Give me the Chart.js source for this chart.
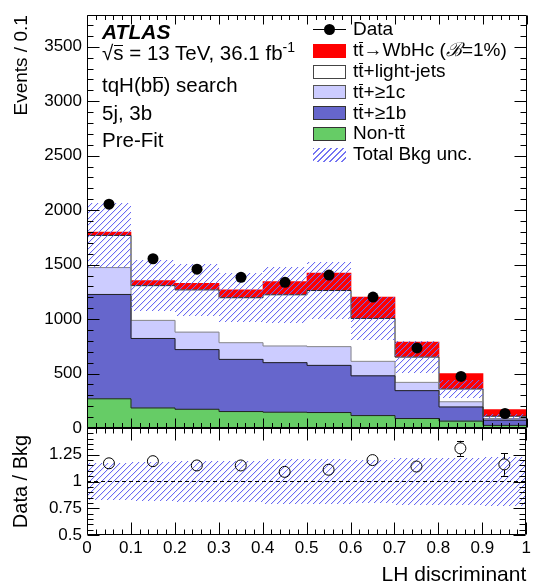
<!DOCTYPE html>
<html><head><meta charset="utf-8">
<script src="https://cdn.jsdelivr.net/npm/chart.js@4.4.1/dist/chart.umd.min.js"></script>
<style>
html,body{margin:0;padding:0;background:#fff;}
body{width:534px;height:588px;position:relative;overflow:hidden;font-family:"Liberation Sans",Arial,sans-serif;color:#000;}
canvas{position:absolute;left:0;top:0;}
.t{position:absolute;white-space:nowrap;line-height:1;}
.ob{display:inline-block;position:relative;}
.ob::before{content:'';position:absolute;left:0.03em;right:0.03em;top:0.1em;border-top:1px solid #000;}
.sw{position:absolute;box-sizing:border-box;width:33px;height:14px;}
</style></head><body>
<canvas id="main" width="534" height="588"></canvas>
<canvas id="ratio" width="534" height="588"></canvas>

<div class="t" style="left:102px;top:20.5px;font-size:21px;font-weight:bold;font-style:italic;">ATLAS</div>
<div class="t" style="left:102px;top:42.6px;font-size:20.5px;">&radic;<span class="ob">s</span> = 13 TeV, 36.1 fb<span style="font-size:14px;position:relative;top:-8px;">-1</span></div>
<div class="t" style="left:102px;top:75.3px;font-size:20.5px;">tqH(b<span class="ob">b</span>) search</div>
<div class="t" style="left:102px;top:102.6px;font-size:20.5px;">5j, 3b</div>
<div class="t" style="left:102px;top:129.9px;font-size:20.5px;">Pre-Fit</div>

<div style="position:absolute;left:313px;top:28.5px;width:33px;height:1px;background:#000;"></div>
<div style="position:absolute;left:324px;top:23.5px;width:11px;height:11px;border-radius:50%;background:#000;"></div>
<div class="t" style="left:353px;top:19.4px;font-size:19px;">Data</div>

<div class="sw" style="left:313px;top:43.8px;background:#ff0000;"></div>
<div class="t" style="left:353px;top:40.2px;font-size:19px;">t<span class="ob">t</span>&rarr;WbHc (<i>&#x212C;</i>=1%)</div>

<div class="sw" style="left:313px;top:64.6px;background:#fff;border:1px solid #444;"></div>
<div class="t" style="left:353px;top:61px;font-size:19px;">t<span class="ob">t</span>+light-jets</div>

<div class="sw" style="left:313px;top:85.4px;background:#ccccff;border:1px solid #555;"></div>
<div class="t" style="left:353px;top:81.8px;font-size:19px;">t<span class="ob">t</span>+&ge;1c</div>

<div class="sw" style="left:313px;top:106.2px;background:#6666cc;border:1px solid #333;"></div>
<div class="t" style="left:353px;top:102.6px;font-size:19px;">t<span class="ob">t</span>+&ge;1b</div>

<div class="sw" style="left:313px;top:127px;background:#66cc66;border:1px solid #333;"></div>
<div class="t" style="left:353px;top:123.4px;font-size:19px;">Non-t<span class="ob">t</span></div>

<div class="sw" style="left:313px;top:147.8px;background:repeating-linear-gradient(135deg, #7474f2 0px, #7474f2 1px, transparent 1px, transparent 4.24px);"></div>
<div class="t" style="left:353px;top:144.2px;font-size:19px;">Total Bkg unc.</div>

<script>
// ---------------- data ----------------
const binCenters = [0.05, 0.15, 0.25, 0.35, 0.45, 0.55, 0.65, 0.75, 0.85, 0.95];
const binEdges   = [0, 0.1, 0.2, 0.3, 0.4, 0.5, 0.6, 0.7, 0.8, 0.9, 1.0];

const nonTT   = [268, 184, 172, 151, 145, 142, 114,  87,  63,  24];
const ttB     = [958, 638, 548, 479, 455, 433, 365, 256, 130,  48];
const ttC     = [247, 166, 160, 153, 153, 172, 133,  76,  48,  15];
const ttLight = [295, 319, 388, 413, 470, 515, 394, 232, 117,  21];
const signal  = [ 30,  46,  60,  72, 121, 160, 196, 138, 142,  61];

const dataEvents = [2055, 1554, 1458, 1383, 1338, 1404, 1202, 735, 473, 133];
const dataErr    = [  45,   39,   38,   37,   37,   37,   35,  27,  22,  12];

const bkgRelUnc  = [0.17, 0.18, 0.19, 0.19, 0.21, 0.21, 0.20, 0.22, 0.22, 0.23];

const ratioVals  = [1.17, 1.19, 1.15, 1.15, 1.09, 1.11, 1.20, 1.14, 1.31, 1.16];
const ratioErr   = [0.025, 0.03, 0.03, 0.03, 0.03, 0.03, 0.035, 0.04, 0.07, 0.105];

const mainYTicks = [0, 500, 1000, 1500, 2000, 2500, 3000, 3500];
const ratioYTicks = [0.5, 0.75, 1, 1.25];
const ratioYTickLabels = ['0.5', '0.75', '1', '1.25'];
const xTicks = [0, 0.1, 0.2, 0.3, 0.4, 0.5, 0.6, 0.7, 0.8, 0.9, 1];
const xTickLabels = ['0', '0.1', '0.2', '0.3', '0.4', '0.5', '0.6', '0.7', '0.8', '0.9', '1'];

// ---------------- setup ----------------
Chart.defaults.font.family = "'Liberation Sans', Arial, sans-serif";

const HATCH_CORE = 'rgba(105,105,242,1)';
const HATCH_SOFT = 'rgba(105,105,242,0.15)';
const HATCH_SPACING = 6;

const comps = [nonTT, ttB, ttC, ttLight, signal];
const cum = [];
let base = binCenters.map(() => 0);
comps.forEach(c => {
  const lo = base;
  const hi = lo.map((v, i) => v + c[i]);
  cum.push({lo, hi});
  base = hi;
});
const bkgTotal = cum[3].hi;

function floatBars(lo, hi, color, order, extra) {
  return Object.assign({
    type: 'bar',
    data: binCenters.map((x, i) => ({x, y: [lo[i], hi[i]]})),
    backgroundColor: color, borderWidth: 0, grouped: false,
    barPercentage: 1, categoryPercentage: 1, order
  }, extra || {});
}
function stepLine(arr, color) {
  return {
    type: 'line',
    data: binEdges.map((e, i) => ({x: e, y: arr[Math.min(i, arr.length - 1)]})),
    stepped: true, borderColor: color, borderWidth: 1, pointRadius: 0, fill: false, order: 2
  };
}

// pixel-exact diagonal hatch inside the bars of datasets flagged "hatch"
const hatchBars = {
  id: 'hatchBars',
  afterDatasetDraw(chart, args) {
    const ds = chart.data.datasets[args.index];
    if (!ds.hatch) return;
    const {ctx, chartArea: a} = chart;
    const sp = HATCH_SPACING;
    ctx.save();
    args.meta.data.forEach(el => {
      const p = el.getProps(['x', 'y', 'base', 'width'], true);
      const L = Math.round(Math.max(a.left, p.x - p.width / 2));
      const R = Math.round(Math.min(a.right, p.x + p.width / 2));
      const T = Math.round(Math.max(a.top, Math.min(p.y, p.base)));
      const B = Math.round(Math.min(a.bottom, Math.max(p.y, p.base)));
      for (let yy = T; yy < B; yy++) {
        const start = L + ((sp - ((L + yy) % sp)) % sp);
        for (let xx = start; xx < R; xx += sp) {
          ctx.fillStyle = HATCH_CORE;
          ctx.fillRect(xx, yy, 1, 1);
          if (xx + 1 < R) { ctx.fillStyle = HATCH_SOFT; ctx.fillRect(xx + 1, yy, 1, 1); }
        }
      }
    });
    ctx.restore();
  }
};

const frameTicks = {
  id: 'frameTicks',
  afterDatasetsDraw(chart, args, o) {
    const {ctx, chartArea: a, scales: {x, y}} = chart;
    const L = Math.round(a.left) + 0.5, R = Math.round(a.right) - 0.5;
    const T = Math.round(a.top) + 0.5, B = Math.round(a.bottom) - 0.5;
    ctx.save();
    ctx.strokeStyle = '#000';
    ctx.lineWidth = 1;
    ctx.beginPath();
    ctx.rect(L, T, R - L, B - T);
    for (let k = 0; k <= 50; k++) {
      const v = k * 0.02;
      const px = Math.round(x.getPixelForValue(v)) + 0.5;
      const len = (k % 5 === 0) ? o.xMaj : o.xMin;
      ctx.moveTo(px, B); ctx.lineTo(px, B - len);
      ctx.moveTo(px, T); ctx.lineTo(px, T + len);
    }
    const n = Math.floor((y.max - o.yStart) / o.yStep + 1e-6);
    for (let k = 0; k <= n; k++) {
      const v = o.yStart + k * o.yStep;
      const py = Math.round(y.getPixelForValue(v)) + 0.5;
      const len = (k % o.yDiv === 0) ? o.yMaj : o.yMin;
      ctx.moveTo(L, py); ctx.lineTo(L + len, py);
      ctx.moveTo(R, py); ctx.lineTo(R - len, py);
    }
    ctx.stroke();
    ctx.restore();
  }
};

const errBars = {
  id: 'errBars',
  afterDatasetsDraw(chart, args, o) {
    const {ctx, scales: {y}} = chart;
    const meta = chart.getDatasetMeta(o.datasetIndex);
    const ds = chart.data.datasets[o.datasetIndex];
    ctx.save();
    ctx.strokeStyle = '#000';
    ctx.lineWidth = 1;
    ctx.beginPath();
    meta.data.forEach((el, i) => {
      const val = ds.data[i].y;
      const e = o.errors[i];
      const yt = y.getPixelForValue(val + e), yb = y.getPixelForValue(val - e);
      const px = Math.round(el.x) + 0.5;
      if (yt < el.y - o.r) { ctx.moveTo(px, yt); ctx.lineTo(px, el.y - o.r); }
      if (yb > el.y + o.r) { ctx.moveTo(px, el.y + o.r); ctx.lineTo(px, yb); }
      if (o.cap > 0 && yt < el.y - o.r) {
        ctx.moveTo(px - o.cap, Math.round(yt) + 0.5); ctx.lineTo(px + o.cap, Math.round(yt) + 0.5);
        ctx.moveTo(px - o.cap, Math.round(yb) + 0.5); ctx.lineTo(px + o.cap, Math.round(yb) + 0.5);
      }
    });
    ctx.stroke();
    ctx.restore();
  }
};

// ---------------- main chart ----------------
new Chart(document.getElementById('main'), {
  type: 'bar',
  data: {
    datasets: [
      {
        type: 'scatter',
        data: binCenters.map((x, i) => ({x, y: dataEvents[i]})),
        pointRadius: 5.5, pointBackgroundColor: '#000', pointBorderColor: '#000', pointBorderWidth: 0,
        showLine: false, order: 0
      },
      floatBars(bkgTotal.map((v, i) => v * (1 - bkgRelUnc[i])), bkgTotal.map((v, i) => v * (1 + bkgRelUnc[i])),
                'rgba(255,255,255,0)', 1, {hatch: true}),
      stepLine(cum[0].hi, '#222'),
      stepLine(cum[1].hi, '#222'),
      stepLine(cum[2].hi, '#888'),
      stepLine(cum[3].hi, '#222'),
      floatBars(cum[0].lo, cum[0].hi, '#66cc66', 3),
      floatBars(cum[1].lo, cum[1].hi, '#6666cc', 3),
      floatBars(cum[2].lo, cum[2].hi, '#ccccff', 3),
      floatBars(cum[3].lo, cum[3].hi, '#ffffff', 3),
      floatBars(cum[4].lo, cum[4].hi, '#ff0000', 3)
    ]
  },
  options: {
    responsive: false, animation: false, devicePixelRatio: 1,
    layout: {padding: {left: 0, right: 7, top: 9, bottom: 160}},
    plugins: {
      legend: {display: false}, tooltip: {enabled: false},
      frameTicks: {xMaj: 9, xMin: 4.5, yStart: 0, yStep: 100, yDiv: 5, yMaj: 12, yMin: 6},
      errBars: {datasetIndex: 0, errors: dataErr, r: 5.5, cap: 0}
    },
    scales: {
      x: {
        type: 'linear', min: 0, max: 1, offset: false, display: false,
        afterBuildTicks: s => { s.ticks = xTicks.map(v => ({value: v})); }
      },
      y: {
        type: 'linear', min: 0, max: 3790,
        afterBuildTicks: s => { s.ticks = mainYTicks.map(v => ({value: v})); },
        afterFit: s => { s.width = 87; },
        grid: {display: false, drawTicks: false},
        border: {display: false},
        ticks: {font: {size: 17}, color: '#000', padding: 5, callback: v => String(v)},
        title: {display: true, text: 'Events / 0.1', align: 'end', font: {size: 19}, color: '#000', padding: {top: 10, bottom: 0}}
      }
    }
  },
  plugins: [hatchBars, frameTicks, errBars]
});

// ---------------- ratio chart ----------------
new Chart(document.getElementById('ratio'), {
  type: 'bar',
  data: {
    datasets: [
      {
        type: 'scatter',
        data: binCenters.map((x, i) => ({x, y: ratioVals[i]})),
        pointRadius: 5.5, pointBackgroundColor: 'rgba(0,0,0,0)', pointBorderColor: '#000', pointBorderWidth: 1,
        showLine: false, order: 0
      },
      {
        type: 'line',
        data: [{x: 0, y: 1}, {x: 1, y: 1}],
        borderColor: '#000', borderWidth: 1, borderDash: [4, 3], pointRadius: 0, fill: false, order: 1
      },
      floatBars(bkgRelUnc.map(u => 1 - u), bkgRelUnc.map(u => 1 + u), 'rgba(255,255,255,0)', 2, {hatch: true})
    ]
  },
  options: {
    responsive: false, animation: false, devicePixelRatio: 1,
    layout: {padding: {left: 0, right: 7, top: 428, bottom: 0}},
    plugins: {
      legend: {display: false}, tooltip: {enabled: false},
      frameTicks: {xMaj: 12, xMin: 5, yStart: 0.5, yStep: 0.05, yDiv: 5, yMaj: 12, yMin: 6},
      errBars: {datasetIndex: 0, errors: ratioErr, r: 5.5, cap: 3.5}
    },
    scales: {
      x: {
        type: 'linear', min: 0, max: 1, offset: false,
        afterBuildTicks: s => { s.ticks = xTicks.map(v => ({value: v})); },
        afterFit: s => { s.height = 53; },
        grid: {display: false, drawTicks: false},
        border: {display: false},
        ticks: {font: {size: 17}, color: '#000', padding: 3, autoSkip: false, maxRotation: 0, minRotation: 0,
                callback: (v, i) => xTickLabels[i]},
        title: {display: true, text: 'LH discriminant', align: 'end', font: {size: 21}, color: '#000', padding: {top: 0, bottom: 0}}
      },
      y: {
        type: 'linear', min: 0.5, max: 1.5,
        afterBuildTicks: s => { s.ticks = ratioYTicks.map(v => ({value: v})); },
        afterFit: s => { s.width = 87; },
        grid: {display: false, drawTicks: false},
        border: {display: false},
        ticks: {font: {size: 17}, color: '#000', padding: 5, callback: (v, i) => ratioYTickLabels[i]},
        title: {display: true, text: 'Data / Bkg', align: 'center', font: {size: 20}, color: '#000', padding: {top: 9, bottom: 0}}
      }
    }
  },
  plugins: [hatchBars, frameTicks, errBars]
});
</script>
</body></html>
